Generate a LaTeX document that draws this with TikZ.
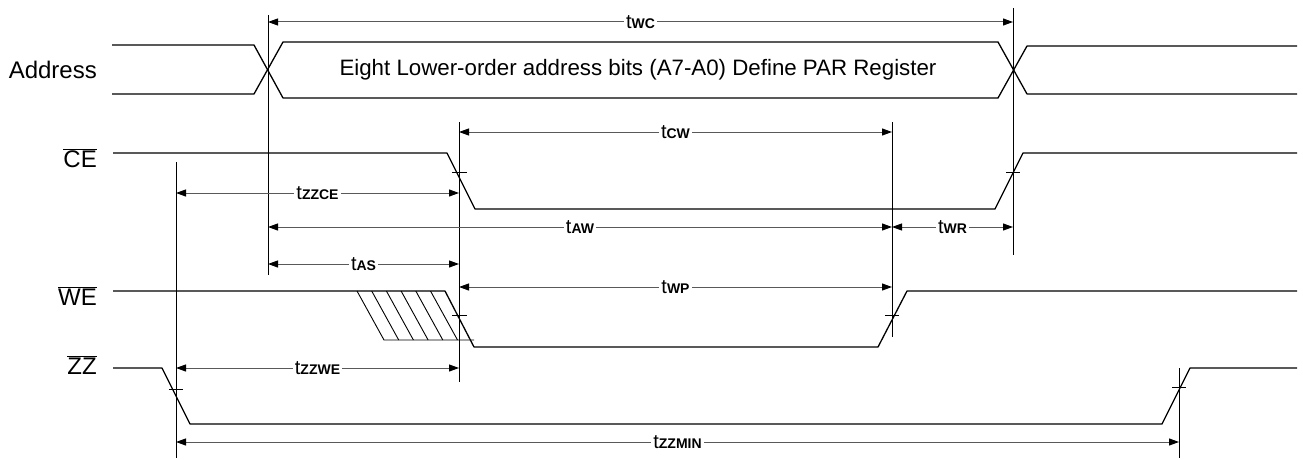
\documentclass[tikz,border=0pt]{standalone}
\usepackage{fontspec}
\setmainfont{Liberation Sans}
\usetikzlibrary{arrows.meta}

\tikzset{
  wave/.style={line width=1.3pt, line join=round},
  refline/.style={line width=1pt},
  hatch/.style={line width=0.9pt},
  dim/.style={draw=black!65, line width=1pt,
    {Triangle[length=10pt,width=7pt,color=black]}-{Triangle[length=10pt,width=7pt,color=black]}},
  dimlabel/.style={fill=white, inner xsep=2pt, inner ysep=1pt},
  siglabel/.style={anchor=east, inner sep=0pt, font=\fontsize{24}{26}\selectfont}
}
\newcommand{\tparam}[1]{{\fontsize{20}{20}\selectfont t}{\fontsize{14}{14}\selectfont\bfseries #1}}
\newcommand{\barsig}[1]{$\overline{\hbox{#1}}$}

\begin{document}
\begin{tikzpicture}[x=1pt,y=-1pt]
\useasboundingbox (0,0) rectangle (1303,460);

% Signal names
\node[siglabel] (lAddr) at (97,70) {Address};
\node[siglabel] (lCE) at (97,158) {\barsig{CE}};
\node[siglabel] (lWE) at (97,296) {\barsig{WE}};
\node[siglabel] (lZZ) at (97,365) {\barsig{ZZ}};

% Address bus
\draw[wave] (112,45) -- (254,45) -- (283,98) -- (998,98) -- (1027,46) -- (1297,46);
\draw[wave] (112,94) -- (254,94) -- (283,42) -- (998,42) -- (1027,94) -- (1297,94);
\node[font=\fontsize{22.3}{24}\selectfont] (busText) at (638,70)
  {Eight Lower-order address bits (A7-A0) Define PAR Register};

% CE, WE and ZZ waveforms
\draw[wave] (113,153) -- (447,153) -- (475,209) -- (995,209) -- (1023,153) -- (1297,153);
\draw[wave] (113,291) -- (445,291) -- (474,347) -- (878,347) -- (907,291) -- (1297,291);
\draw[wave] (113,368) -- (162,368) -- (190,424) -- (1162,424) -- (1190,368) -- (1297,368);

% Don't-care hatching on WE
\draw[hatch] (357,291) -- (384,340) -- (474,340);
\foreach \i in {1,...,5}
  \draw[hatch] (357+14.7*\i,291) -- (384+14.7*\i,340);

% Timing reference lines
\draw[refline] (268,15) -- (268,275);
\draw[refline] (1013,8) -- (1013,255);
\draw[refline] (459,122) -- (459,382);
\draw[refline] (892,122) -- (892,337);
\draw[refline] (176,162) -- (176,458);
\draw[refline] (1179,368) -- (1179,458);

% Crossing ticks
\draw[refline] (452,172) -- (467,172);
\draw[refline] (1006,172) -- (1020,172);
\draw[refline] (452,315) -- (467,315);
\draw[refline] (885,315) -- (899,315);
\draw[refline] (169,389) -- (183,389);
\draw[refline] (1172,387) -- (1186,387);

% Timing parameters
\draw[dim] (268,22) -- node[dimlabel] (tWC) {\tparam{WC}} (1013,22);
\draw[dim] (459,132) -- node[dimlabel] (tCW) {\tparam{CW}} (892,132);
\draw[dim] (176,193) -- node[dimlabel] (tZZCE) {\tparam{ZZCE}} (459,193);
\draw[dim] (268,227) -- node[dimlabel] (tAW) {\tparam{AW}} (892,227);
\draw[dim] (892,227) -- node[dimlabel] (tWR) {\tparam{WR}} (1013,227);
\draw[dim] (268,264) -- node[dimlabel] (tAS) {\tparam{AS}} (459,264);
\draw[dim] (459,287) -- node[dimlabel] (tWP) {\tparam{WP}} (892,287);
\draw[dim] (176,368) -- node[dimlabel] (tZZWE) {\tparam{ZZWE}} (459,368);
\draw[dim] (176,442) -- node[dimlabel] (tZZMIN) {\tparam{ZZMIN}} (1179,442);
\end{tikzpicture}
\end{document}
